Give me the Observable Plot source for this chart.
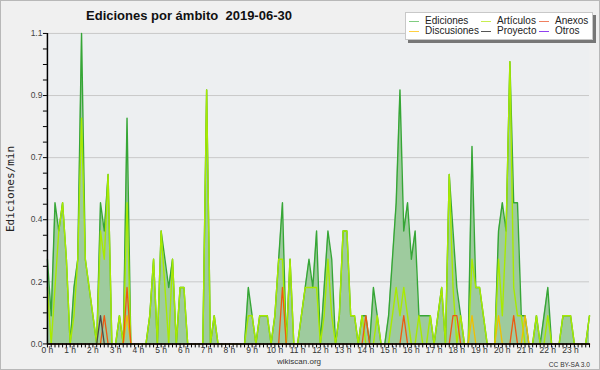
<!DOCTYPE html>
<html><head><meta charset="utf-8">
<script src="https://cdn.jsdelivr.net/npm/d3@7"></script>
<script src="https://cdn.jsdelivr.net/npm/@observablehq/plot@0.6"></script>
<style>
html,body{margin:0;padding:0;background:#f0f0f0;}
#wrap{position:relative;width:600px;height:370px;overflow:hidden;box-sizing:border-box;border:1px solid #b8b8b8;background:#f0f0f0;font-family:"Liberation Sans",sans-serif;}
#chart{position:absolute;left:-1px;top:-1px;}
.abs{position:absolute;white-space:nowrap;}
#title{left:0;width:376px;top:7px;text-align:center;font-weight:bold;font-size:13px;color:#111;}
#ylab{left:9px;top:188px;transform:translate(-50%,-50%) rotate(-90deg);font-family:"DejaVu Sans Mono",monospace;font-size:11px;color:#222;}
#legend{left:404px;top:11px;width:186px;height:26px;background:#fff;border:1px solid #c8c8c8;box-shadow:3px 3px 0 #777;}
.li{position:absolute;font-size:10px;color:#222;line-height:10px;}
.sw{position:absolute;width:10px;height:0;border-top:1px solid;}
#foot{left:0;width:596px;top:356px;text-align:center;font-size:8px;color:#333;}
#cc{right:9px;top:360px;font-size:6.6px;color:#333;}
</style></head><body>
<div id="wrap">
  <div id="chart"></div>
  <div id="title" class="abs"></div>
  <div id="ylab" class="abs"></div>
  <div id="legend" class="abs"></div>
  <div id="foot" class="abs"></div>
  <div id="cc" class="abs"></div>
</div>
<script>
const title = "Ediciones por ámbito\u00a0\u00a02019-06-30";
const yLabel = "Ediciones/min";
const footer = "wikiscan.org";
const license = "CC BY-SA 3.0";
const hourLabels = ["0 h","1 h","2 h","3 h","4 h","5 h","6 h","7 h","8 h","9 h","10 h","11 h","12 h","13 h","14 h","15 h","16 h","17 h","18 h","19 h","20 h","21 h","22 h","23 h"];
const yTickLabels = ["0.0","0.2","0.4","0.7","0.9","1.1"];
const seriesNames = ["Ediciones","Artículos","Anexos","Discusiones","Proyecto","Otros"];
const lineColors = ["#36a636","#a8ea00","#ee5a10","#f0c000","#4a4a4a","#9040f0"];
const legendColors = ["#80cc80","#c8ee50","#f08060","#ffd040","#555555","#9040f0"];

// edits per minute, one value per 10-minute interval (144 intervals)
const ediciones = [
0.3,0.1,0.5,0.4,0.5,0.3,0.0,0.2,0.3,1.1,0.3,0.2,
0.1,0.0,0.5,0.4,0.6,0.0,0.0,0.1,0.0,0.8,0.0,0.0,
0.0,0.0,0.0,0.1,0.3,0.0,0.4,0.3,0.2,0.3,0.0,0.2,
0.2,0.0,0.0,0.0,0.0,0.0,0.9,0.0,0.1,0.0,0.0,0.0,
0.0,0.0,0.0,0.0,0.0,0.2,0.1,0.0,0.1,0.1,0.1,0.0,
0.1,0.3,0.5,0.0,0.3,0.0,0.0,0.1,0.2,0.3,0.2,0.4,
0.0,0.2,0.4,0.3,0.0,0.1,0.4,0.4,0.1,0.1,0.0,0.1,
0.1,0.0,0.2,0.1,0.0,0.0,0.1,0.3,0.5,0.9,0.4,0.5,
0.3,0.4,0.1,0.1,0.1,0.1,0.0,0.1,0.2,0.0,0.6,0.4,
0.2,0.1,0.0,0.0,0.7,0.2,0.2,0.1,0.0,0.0,0.0,0.4,
0.5,0.4,1.0,0.5,0.5,0.1,0.1,0.0,0.0,0.1,0.0,0.1,
0.2,0.0,0.0,0.0,0.1,0.1,0.1,0.0,0.0,0.0,0.0,0.1];
const articulos = [
0.2,0.0,0.2,0.4,0.5,0.3,0.0,0.1,0.3,0.8,0.3,0.2,
0.1,0.0,0.4,0.3,0.6,0.0,0.0,0.1,0.0,0.5,0.0,0.0,
0.0,0.0,0.0,0.1,0.3,0.0,0.4,0.2,0.0,0.3,0.0,0.2,
0.2,0.0,0.0,0.0,0.0,0.0,0.9,0.0,0.1,0.0,0.0,0.0,
0.0,0.0,0.0,0.0,0.0,0.1,0.1,0.0,0.1,0.1,0.1,0.0,
0.1,0.3,0.3,0.0,0.3,0.0,0.0,0.1,0.2,0.2,0.2,0.2,
0.0,0.1,0.3,0.1,0.0,0.1,0.4,0.4,0.1,0.1,0.0,0.1,
0.0,0.0,0.0,0.1,0.0,0.0,0.0,0.1,0.2,0.1,0.2,0.1,
0.0,0.0,0.1,0.0,0.0,0.1,0.0,0.1,0.2,0.0,0.6,0.2,
0.0,0.1,0.0,0.0,0.3,0.2,0.2,0.1,0.0,0.0,0.0,0.3,
0.1,0.4,1.0,0.2,0.1,0.1,0.0,0.0,0.0,0.1,0.0,0.0,
0.1,0.0,0.0,0.0,0.1,0.1,0.1,0.0,0.0,0.0,0.0,0.1];
const anexos = [
0,0,0,0,0,0,0,0,0,0,0,0,
0,0,0,0.1,0,0,0,0,0,0.2,0,0,
0,0,0,0,0,0,0,0,0,0,0,0,
0,0,0,0,0,0,0,0,0,0,0,0,
0,0,0,0,0,0,0,0,0,0,0,0,
0,0,0.2,0,0,0,0,0,0,0,0,0,
0,0,0,0,0,0,0,0,0,0,0,0,
0.1,0,0,0,0,0,0,0,0,0,0.1,0,
0,0,0,0,0,0,0,0,0,0,0,0.1,
0.1,0,0,0,0,0,0,0,0,0,0,0,
0,0,0,0.1,0,0,0,0,0,0,0,0,
0,0,0,0,0,0,0,0,0,0,0,0];
const discusiones = [
0,0,0,0,0,0,0,0,0,0,0,0,
0,0,0,0,0,0,0,0,0,0.1,0,0,
0,0,0,0,0,0,0,0,0,0,0,0,
0,0,0,0,0,0,0,0,0,0,0,0,
0,0,0,0,0,0,0,0,0,0,0,0,
0,0,0,0,0,0,0,0,0,0,0,0,
0,0,0,0,0,0,0,0,0,0,0,0,
0,0,0,0,0,0,0,0,0,0,0,0,
0,0,0,0,0,0,0,0,0,0,0,0,
0,0,0,0,0.1,0,0,0,0,0,0,0.1,
0,0,0,0,0,0,0.1,0,0,0,0,0,
0,0,0,0,0,0,0,0,0,0,0,0];
const proyecto = [
0,0,0,0,0,0,0,0,0,0,0,0,
0,0,0.1,0,0,0,0,0,0,0,0,0,
0,0,0,0,0,0,0,0,0,0,0,0,
0,0,0,0,0,0,0,0,0,0,0,0,
0,0,0,0,0,0,0,0,0,0,0,0,
0,0,0,0,0,0,0,0,0,0,0,0,
0,0,0,0,0,0,0,0,0,0,0,0,
0,0,0,0,0,0,0,0,0,0,0,0,
0,0,0,0,0,0,0,0,0,0,0,0,
0,0,0,0,0,0,0,0,0,0,0,0,
0,0,0,0,0,0,0,0,0,0,0,0,
0,0,0,0,0,0,0,0,0,0,0,0];
const otros = [
0,0,0,0,0,0,0,0,0,0,0,0,
0,0,0,0,0,0,0,0,0,0,0,0,
0,0,0,0,0,0,0,0,0,0,0,0,
0,0,0,0,0,0,0,0,0,0,0,0,
0,0,0,0,0,0,0,0,0,0,0,0,
0,0,0,0,0,0,0,0,0,0,0,0,
0,0,0,0,0,0,0,0,0,0,0,0,
0,0,0,0,0,0,0,0,0,0,0,0,
0,0,0,0,0,0,0,0,0,0,0,0,
0,0,0,0,0,0,0,0,0,0,0,0,
0,0,0,0,0,0,0,0,0,0,0,0,
0,0,0,0,0,0,0,0,0,0,0,0];

const idx = d3.range(ediciones.length);
const yMax = 1.1;
const yMajor = d3.range(6).map(k => k * yMax / 5);
const yTicks = d3.range(21).map(k => k * yMax / 20);

const lineMark = (arr, color, w) => Plot.lineY(idx, {x: i => i, y: i => arr[i], stroke: color, strokeWidth: w, curve: "linear"});

const chart = Plot.plot({
  width: 600, height: 370,
  marginLeft: 47, marginRight: 10, marginTop: 33, marginBottom: 26,
  style: {background: "transparent", fontFamily: "Liberation Sans, sans-serif", fontSize: "8.5px", color: "#000", overflow: "visible"},
  x: {domain: [0, 143]},
  y: {domain: [0, yMax]},
  marks: [
    Plot.frame({fill: "#edeff1", stroke: null}),
    Plot.gridY(yMajor.slice(1), {stroke: "#c9c9c9", strokeOpacity: 1, strokeWidth: 1}),
    Plot.areaY(idx, {x: i => i, y: i => ediciones[i], fill: "#9ecb9e", fillOpacity: 1}),
    lineMark(otros, lineColors[5], 1.3),
    lineMark(ediciones, lineColors[0], 1.4),
    lineMark(articulos, lineColors[1], 1.4),
    lineMark(discusiones, lineColors[3], 1.3),
    lineMark(anexos, lineColors[2], 1.3),
    lineMark(proyecto, lineColors[4], 1.3),
    Plot.axisY({ticks: yTicks, tickSize: 4, tickPadding: 1, label: null, stroke: "#000", fill: "#444",
      tickFormat: d => { const k = Math.round(d / (yMax / 20)); return k % 4 === 0 ? yTickLabels[k / 4] : ""; }}),
    Plot.axisX({ticks: idx, tickSize: 4, tickPadding: -1, label: null, stroke: "#000", fill: "#333",
      tickFormat: i => i % 6 === 0 ? hourLabels[i / 6] : ""}),
    Plot.ruleX([0], {stroke: "#000", strokeWidth: 1.5}),
    Plot.ruleY([0], {stroke: "#000", strokeWidth: 1.5})
  ]
});
document.getElementById("chart").appendChild(chart);

document.getElementById("title").textContent = title;
document.getElementById("ylab").textContent = yLabel;
document.getElementById("foot").textContent = footer;
document.getElementById("cc").textContent = license;

const legend = document.getElementById("legend");
const colX = [3, 75, 133];
const rowY = [3, 13];
const order = [[0,0,0],[1,1,0],[2,2,0],[3,0,1],[4,1,1],[5,2,1]];
order.forEach(([s, c, r]) => {
  const sw = document.createElement("div");
  sw.className = "sw";
  sw.style.left = colX[c] + "px";
  sw.style.top = (rowY[r] + 5) + "px";
  sw.style.borderTopColor = legendColors[s];
  legend.appendChild(sw);
  const t = document.createElement("div");
  t.className = "li";
  t.style.left = (colX[c] + 16) + "px";
  t.style.top = rowY[r] + "px";
  t.textContent = seriesNames[s];
  legend.appendChild(t);
});
</script>
</body></html>
